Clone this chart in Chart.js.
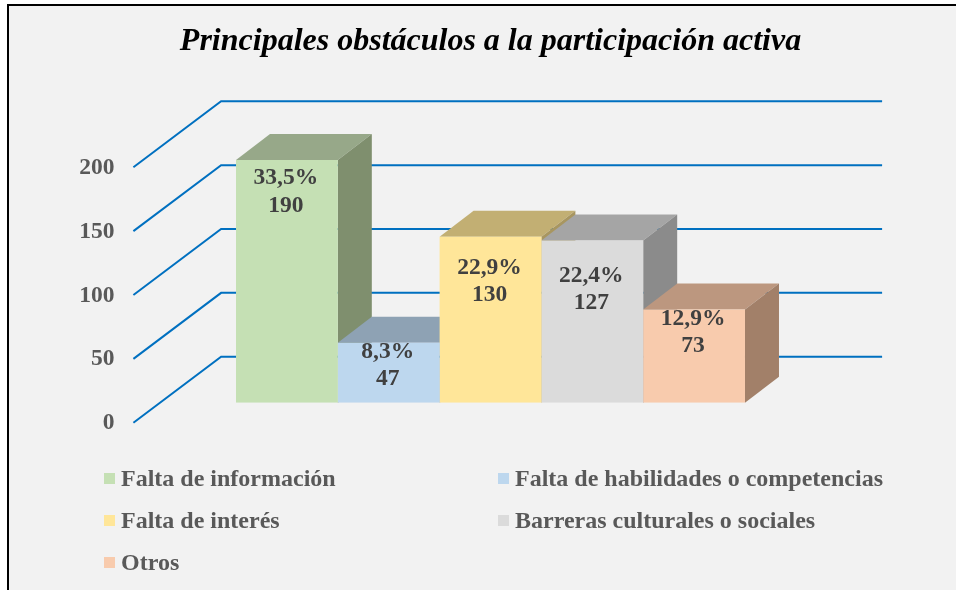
<!DOCTYPE html>
<html lang="es">
<head>
<meta charset="utf-8">
<title>Principales obstáculos a la participación activa</title>
<script src="https://cdn.jsdelivr.net/npm/chart.js@4.4.1/dist/chart.umd.min.js"></script>
<style>
  html, body { margin: 0; padding: 0; background: #fff; }
  body { width: 956px; height: 590px; position: relative; overflow: hidden; }
  .frame { position: absolute; left: 7px; top: 4px; width: 1000px; height: 700px; border: 2px solid #000; background: #f2f2f2; }
  #chart { position: absolute; left: 0; top: 0; }
  .legend .item { position: absolute; display: flex; align-items: center; height: 30px; margin-top: -15px;
    font: bold 24px "Liberation Serif", "Times New Roman", serif; color: #595959; white-space: nowrap; }
  .legend .box { width: 11px; height: 11px; margin-right: 6px; flex: none; }
</style>
</head>
<body>
<div class="frame"></div>
<canvas id="chart" width="956" height="590"></canvas>
<div class="legend" id="legend"></div>
<script>
// ===== DATA =====
const title = 'Principales obstáculos a la participación activa';
const series = [
  'Falta de información',
  'Falta de habilidades o competencias',
  'Falta de interés',
  'Barreras culturales o sociales',
  'Otros'
];
const values   = [190, 47, 130, 127, 73];
const percents = ['33,5%', '8,3%', '22,9%', '22,4%', '12,9%'];
const yTicks   = [0, 50, 100, 150, 200];

// ===== STYLE =====
const frontColors = ['#C5E0B4', '#BDD7EE', '#FFE699', '#DBDBDB', '#F8CBAD'];
const topColors   = ['#97A889', '#8EA2B4', '#C2AF73', '#A5A5A5', '#BC977F'];
const sideColors  = ['#7F8F6E', '#7A8B9B', '#A89660', '#8B8B8B', '#A28069'];
const labelShift  = [18, 9, 31, 35, 9];   // distancia del texto al borde superior
const SERIF = '"Liberation Serif", "Times New Roman", serif';

// desplazamientos de la perspectiva (respecto al plano frontal de las barras)
const depth = { dx: 34, dy: -26 };      // fondo de cada barra
const floorFront = { dx: -26.6, dy: 20 }; // borde delantero del piso (etiquetas del eje)
const wallBack = { dx: 61.1, dy: -46 };   // pared del fondo (líneas de división)

const poly = (ctx, pts, color) => {
  ctx.beginPath();
  ctx.moveTo(pts[0][0], pts[0][1]);
  for (let i = 1; i < pts.length; i++) ctx.lineTo(pts[i][0], pts[i][1]);
  ctx.closePath();
  ctx.fillStyle = color;
  ctx.fill();
};

const threeD = {
  id: 'threeD',
  beforeDatasetsDraw(chart) {
    const { ctx, chartArea: a, scales: { y } } = chart;
    ctx.save();

    // rejilla: diagonal en la pared lateral + horizontal en la pared del fondo
    ctx.strokeStyle = '#0070C0';
    ctx.lineWidth = 2;
    yTicks.forEach(v => {
      const py = y.getPixelForValue(v);
      ctx.beginPath();
      ctx.moveTo(a.left + floorFront.dx, py + floorFront.dy);
      ctx.lineTo(a.left + wallBack.dx, py + wallBack.dy);
      if (v > 0) ctx.lineTo(a.right + wallBack.dx, py + wallBack.dy);
      else ctx.lineTo(a.right + wallBack.dx, py + wallBack.dy);
      ctx.stroke();
    });

    // etiquetas del eje Y
    ctx.fillStyle = '#595959';
    ctx.font = 'bold 23.5px ' + SERIF;
    ctx.textAlign = 'right';
    ctx.textBaseline = 'middle';
    yTicks.forEach(v => {
      const py = y.getPixelForValue(v);
      ctx.fillText(String(v), a.left + floorFront.dx - 19, py + floorFront.dy + 0.5);
    });

    // caras superior y lateral, de izquierda a derecha
    chart.data.datasets.forEach((ds, i) => {
      const bar = chart.getDatasetMeta(i).data[0];
      if (!bar) return;
      const { x, y: top, base, width } = bar.getProps(['x', 'y', 'base', 'width'], true);
      const L = x - width / 2, R = x + width / 2;
      poly(ctx, [[L, top], [R, top], [R + depth.dx, top + depth.dy], [L + depth.dx, top + depth.dy]], topColors[i]);
      poly(ctx, [[R, top], [R + depth.dx, top + depth.dy], [R + depth.dx, base + depth.dy], [R, base]], sideColors[i]);
    });
    ctx.restore();
  },
  afterDatasetsDraw(chart) {
    const { ctx } = chart;
    ctx.save();
    ctx.fillStyle = '#404040';
    ctx.font = 'bold 23.5px ' + SERIF;
    ctx.textAlign = 'center';
    ctx.textBaseline = 'middle';
    chart.data.datasets.forEach((ds, i) => {
      const bar = chart.getDatasetMeta(i).data[0];
      if (!bar) return;
      const { x, y: top } = bar.getProps(['x', 'y'], true);
      const ly = top + labelShift[i];
      ctx.fillText(percents[i], x - 1, ly);
      ctx.fillText(String(values[i]), x - 1, ly + 27.5);
    });
    ctx.restore();
  }
};

new Chart(document.getElementById('chart'), {
  type: 'bar',
  data: {
    labels: [''],
    datasets: series.map((name, i) => ({
      label: name,
      data: [values[i]],
      backgroundColor: frontColors[i],
      borderWidth: 0,
      barPercentage: 1,
      categoryPercentage: 0.77
    }))
  },
  options: {
    responsive: false,
    animation: false,
    layout: { padding: { left: 160, right: 135, top: 0, bottom: 187.3 } },
    plugins: {
      legend: { display: false },
      tooltip: { enabled: false },
      title: {
        display: true,
        text: title,
        color: '#000',
        font: { family: SERIF, size: 32, style: 'italic', weight: 'bold', lineHeight: 1.2 },
        padding: { top: 23, bottom: 85.9 }
      }
    },
    scales: {
      x: { display: false },
      y: { display: false, min: 0, max: 200 }
    }
  },
  plugins: [threeD]
});

// ===== LEYENDA (dos columnas) =====
const legendEl = document.getElementById('legend');
const colLeft = [104, 498];
legendEl.innerHTML = series.map((name, i) => `
  <span class="item" style="left:${colLeft[i % 2]}px; top:${478 + Math.floor(i / 2) * 42}px">
    <span class="box" style="background:${frontColors[i]}"></span>${name}
  </span>`).join('');
</script>
</body>
</html>
